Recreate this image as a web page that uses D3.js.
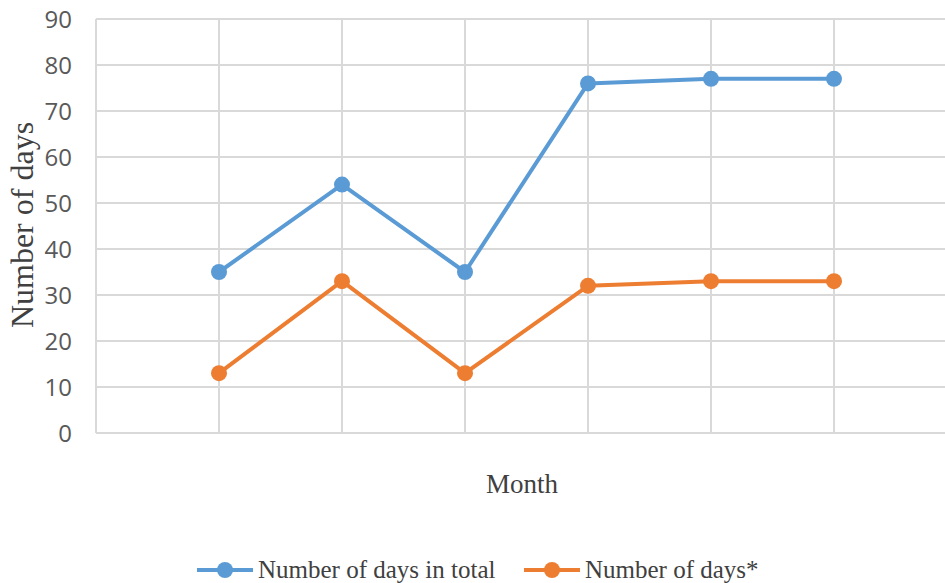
<!DOCTYPE html>
<html><head><meta charset="utf-8">
<script src="https://cdn.jsdelivr.net/npm/d3@7"></script>
<style>body{margin:0;background:#fff}svg{display:block}</style>
</head><body>
<script>
const categories = [1, 2, 3, 4, 5, 6];
const totalDays = [35, 54, 35, 76, 77, 77];
const starDays = [13, 33, 13, 32, 33, 33];
const yTicks = [0, 10, 20, 30, 40, 50, 60, 70, 80, 90];
const seriesNames = ["Number of days in total", "Number of days*"];
const colors = ["#5B9BD5", "#ED7D31"];

const W = 945, H = 583;
const svg = d3.select("body").append("svg").attr("width", W).attr("height", H);

const x = d3.scaleLinear().domain([0, 7]).range([96, 957]);
const y = d3.scaleLinear().domain([0, 90]).range([433, 19]);

const grid = svg.append("g");
grid.selectAll("line.h").data(yTicks).enter().append("line")
  .attr("x1", x(0)).attr("x2", W).attr("y1", d => y(d)).attr("y2", d => y(d))
  .attr("stroke", "#d9d9d9").attr("stroke-width", 2);
grid.selectAll("line.v").data([0, ...categories]).enter().append("line")
  .attr("x1", d => x(d)).attr("x2", d => x(d)).attr("y1", y(90)).attr("y2", y(0))
  .attr("stroke", "#d9d9d9").attr("stroke-width", 2);

const yAxis = d3.axisLeft(y).tickValues(yTicks).tickSize(0).tickPadding(0);
const ga = svg.append("g").attr("transform", `translate(${x(0) - 24},0)`).call(yAxis);
ga.select(".domain").remove();
ga.selectAll("text").attr("font-family", "'Open Sans', 'Liberation Sans', sans-serif")
  .attr("font-size", 24).attr("fill", "#595959").attr("dy", "0.36em")
  .attr("transform", "scale(0.94,1)").attr("x", 0);
ga.selectAll(".tick text").attr("transform", null);

svg.append("text").attr("transform", `translate(33,225) rotate(-90)`)
  .attr("text-anchor", "middle").attr("font-family", "'Liberation Serif', serif")
  .attr("font-size", 32).attr("fill", "#404040").text("Number of days");
svg.append("text").attr("x", 522).attr("y", 493).attr("text-anchor", "middle")
  .attr("font-family", "'Liberation Serif', serif").attr("font-size", 27)
  .attr("fill", "#404040").text("Month");

const line = d3.line().x((d, i) => x(categories[i])).y(d => y(d));
[totalDays, starDays].forEach((vals, s) => {
  svg.append("path").datum(vals).attr("d", line).attr("fill", "none")
    .attr("stroke", colors[s]).attr("stroke-width", 4).attr("stroke-linejoin", "round");
  svg.selectAll(null).data(vals).enter().append("circle")
    .attr("cx", (d, i) => x(categories[i])).attr("cy", d => y(d)).attr("r", 8)
    .attr("fill", colors[s]);
});

const legendX = [197, 524];
seriesNames.forEach((name, s) => {
  const g = svg.append("g").attr("transform", `translate(${legendX[s]},570)`);
  g.append("line").attr("x1", 0).attr("x2", 56).attr("y1", 0).attr("y2", 0)
    .attr("stroke", colors[s]).attr("stroke-width", 4);
  g.append("circle").attr("cx", 28).attr("cy", 0).attr("r", 8).attr("fill", colors[s]);
  g.append("text").attr("x", 61).attr("y", 8).attr("font-family", "'Liberation Serif', serif")
    .attr("font-size", 25).attr("fill", "#404040").text(name);
});
</script>
</body></html>
